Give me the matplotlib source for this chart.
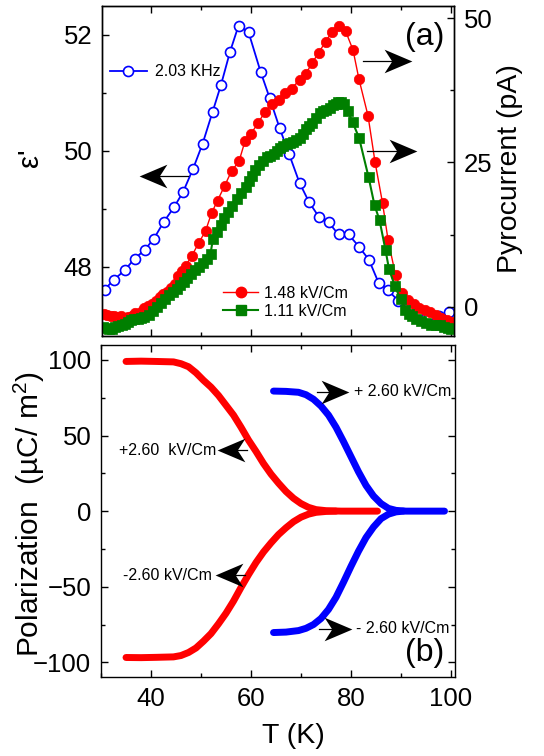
import matplotlib
matplotlib.use("Agg")
import matplotlib.pyplot as plt
from matplotlib.path import Path
from matplotlib.lines import Line2D
from matplotlib.ticker import MultipleLocator

plt.rcParams['font.family'] = ['Liberation Sans', 'DejaVu Sans']
plt.rcParams['mathtext.fontset'] = 'custom'
plt.rcParams['mathtext.rm'] = 'Liberation Sans'
plt.rcParams['mathtext.it'] = 'Liberation Sans:italic'
plt.rcParams['axes.linewidth'] = 1.0

# ---------------- (a) dielectric constant, 2.03 kHz (left axis) ----------------
T_eps = [30.7, 32.6, 34.7, 36.7, 38.7, 40.6, 42.5, 44.6, 46.4, 48.4, 50.3, 52.3,
         54.0, 55.8, 57.5, 59.5, 61.9, 63.7, 65.7, 67.6, 69.7, 71.6, 73.6, 75.5,
         77.5, 79.5, 81.6, 83.6, 85.5, 87.4, 89.4, 91.4, 93.4, 95.5, 97.6, 99.6]
eps = [47.61, 47.78, 47.94, 48.14, 48.29, 48.49, 48.77, 49.03, 49.29, 49.69, 50.12, 50.67,
       51.14, 51.71, 52.16, 52.05, 51.37, 50.92, 50.40, 49.95, 49.45, 49.12, 48.86, 48.77,
       48.56, 48.56, 48.35, 48.12, 47.73, 47.60, 47.42, 47.30, 47.22, 47.17, 47.15, 47.22]

# ---------------- (a) pyrocurrent (right axis) ----------------
T_pyro_148 = [30.5, 31.2, 31.9, 32.6, 33.3, 34.0, 34.7, 35.4, 36.1, 36.8, 37.3, 38.0,
              38.6, 39.4, 40.2, 41.0, 41.7, 42.4, 43.2, 44.0, 44.7, 45.4, 46.2, 46.9,
              48.1, 49.5, 50.9, 52.1, 53.3, 54.7, 56.1, 57.6, 58.8, 60.0, 61.4, 62.8,
              64.1, 65.5, 66.8, 68.1, 69.7, 70.9, 72.2, 73.5, 74.9, 76.2, 77.6, 78.9,
              80.4, 81.6, 83.4, 84.8, 86.3, 87.4, 88.9, 90.2, 91.4, 92.5, 93.6, 94.7,
              95.8, 96.9, 98.0, 99.1, 100.2]
I_pyro_148 = [-1.2, -1.5, -1.6, -1.7, -1.8, -1.7, -1.9, -1.8, -1.6, -1.1, -1.6, -0.9,
              -0.3, 0.2, 0.5, 1.0, 1.6, 2.2, 2.6, 3.2, 4.0, 5.4, 6.2, 7.1,
              8.7, 11.0, 13.1, 16.2, 18.4, 20.9, 23.5, 25.2, 28.7, 30.0, 31.8, 33.8,
              35.1, 35.9, 37.1, 37.8, 39.3, 40.3, 42.2, 44.0, 45.9, 47.7, 48.6, 47.8,
              44.5, 39.4, 33.1, 25.1, 18.0, 11.6, 5.5, 2.4, 1.2, 0.5, -0.2, -0.6,
              -1.0, -1.4, -1.9, -2.3, -2.6]

T_pyro_111 = [30.3, 30.9, 31.5, 32.2, 32.8, 33.4, 34.1, 34.7, 35.4, 36.0, 36.6, 37.3,
              37.9, 38.6, 39.6, 40.4, 41.2, 42.0, 42.8, 43.6, 44.4, 45.1, 45.8, 46.5,
              47.2, 48.0, 48.8, 49.6, 50.4, 51.2, 51.9, 52.4, 53.2, 54.0, 54.6, 55.3,
              56.2, 57.2, 58.0, 58.9, 59.5, 60.1, 60.8, 61.6, 62.3, 63.1, 63.8, 64.5,
              65.1, 65.7, 66.4, 67.1, 67.8, 68.4, 69.0, 69.7, 70.3, 70.9, 71.5, 72.2,
              73.0, 73.8, 74.4, 75.0, 75.7, 76.3, 76.9, 77.4, 78.0, 78.5, 79.3, 80.3,
              81.6, 83.5, 84.7, 85.7, 86.9, 87.6, 88.8, 89.9, 90.8, 91.5, 92.1, 93.0,
              94.0, 95.0, 96.0, 97.0, 97.7, 98.5, 99.3, 100.0]
I_pyro_111 = [-3.5, -3.7, -3.8, -3.8, -3.6, -3.4, -3.2, -3.0, -2.6, -2.3, -2.2, -2.1,
              -2.0, -1.8, -1.4, -0.7, 0.0, 0.7, 1.4, 2.0, 2.6, 3.1, 3.7, 4.3,
              4.9, 5.6, 6.3, 6.9, 7.5, 8.3, 9.2, 11.8, 13.0, 14.1, 15.3, 16.4,
              17.5, 18.7, 19.7, 20.8, 21.8, 22.7, 23.7, 24.6, 25.3, 25.9, 26.2, 26.4,
              27.0, 27.5, 27.9, 28.2, 28.4, 28.6, 28.9, 29.3, 30.0, 30.8, 31.3, 31.9,
              32.7, 33.6, 33.9, 34.1, 34.5, 34.9, 35.2, 35.5, 35.4, 35.2, 34.0, 32.0,
              29.3, 22.5, 17.6, 15.0, 9.8, 6.5, 3.5, 1.3, -0.5, -1.2, -1.6, -2.1,
              -2.5, -2.8, -3.1, -3.2, -3.2, -3.5, -3.7, -3.9]

# ---------------- (b) polarization ----------------
T_pol_red_pos = [35.0, 38.0, 41.0, 44.5, 46.0, 47.5, 49.0, 50.5, 52.0, 53.5, 55.0, 56.5,
                 58.0, 59.5, 61.0, 62.5, 64.0, 65.5, 67.0, 68.5, 70.0, 71.5, 73.0, 75.0,
                 78.0, 82.0, 85.3]
P_pol_red_pos = [99.0, 99.2, 99.0, 98.7, 97.5, 95.5, 91.5, 86.5, 82.0, 76.5, 70.0, 63.5,
                 55.5, 47.0, 39.5, 31.5, 24.5, 18.5, 13.0, 8.5, 5.0, 2.5, 1.0, 0.3,
                 0.0, 0.0, 0.0]

T_pol_red_neg = [35.0, 38.0, 41.0, 44.5, 46.0, 47.5, 49.0, 50.5, 52.0, 53.5, 55.0, 56.5,
                 58.0, 59.5, 61.0, 62.5, 64.0, 65.5, 67.0, 68.5, 70.0, 71.5, 73.0, 75.0,
                 77.0]
P_pol_red_neg = [-96.8, -96.9, -96.7, -96.4, -95.5, -93.5, -90.5, -86.0, -81.0, -74.5, -67.5, -59.5,
                 -50.5, -42.0, -34.0, -27.0, -21.0, -15.5, -11.0, -7.0, -4.0, -2.0, -0.8, -0.2,
                 0.0]

T_pol_blue_pos = [64.5, 67.0, 69.5, 71.0, 72.5, 74.0, 75.5, 77.0, 78.5, 80.0, 81.5, 83.0,
                  84.5, 86.0, 87.5, 89.0, 91.0, 95.0, 98.7]
P_pol_blue_pos = [79.4, 79.2, 78.6, 77.0, 74.0, 69.5, 63.5, 55.5, 46.0, 36.0, 26.0, 17.0,
                  10.0, 5.0, 1.8, 0.5, 0.0, 0.0, 0.0]

T_pol_blue_neg = [64.5, 67.0, 69.5, 71.0, 72.5, 74.0, 75.5, 77.0, 78.5, 80.0, 81.5, 83.0,
                  84.5, 86.0, 87.5, 89.0, 90.5]
P_pol_blue_neg = [-80.3, -80.0, -79.0, -77.5, -75.0, -71.0, -65.0, -57.0, -47.0, -36.5, -26.5, -17.5,
                  -10.5, -5.0, -2.0, -0.5, 0.0]

BLUE = '#0000ff'
RED = '#ff0000'
GREEN = '#007f00'
TICK_FS = 18.5
LABEL_FS = 20.5
NOTE_FS = 11.5


def stealth(direction):
    s = 1 if direction == 'right' else -1
    verts = [(s * 1.0, 0.0), (-s * 1.0, 0.85), (-s * 0.45, 0.0), (-s * 1.0, -0.85), (s * 1.0, 0.0)]
    codes = [Path.MOVETO, Path.LINETO, Path.LINETO, Path.LINETO, Path.CLOSEPOLY]
    return Path(verts, codes)


def pointer(axis, x_tip, x_tail, y, head=2.1, ms=20):
    direction = 'right' if x_tip > x_tail else 'left'
    s = 1 if direction == 'right' else -1
    x_mid = x_tip - s * head
    axis.plot([x_tail, x_mid], [y, y], color='black', lw=0.9, zorder=6)
    axis.plot([x_mid], [y], linestyle='none', marker=stealth(direction), ms=ms,
              color='black', mec='black', mew=0, zorder=6)


def style_ticks(a, **kw):
    a.tick_params(which='both', direction='in', labelsize=TICK_FS, width=1.0, **kw)
    a.tick_params(which='major', length=5)
    a.tick_params(which='minor', length=3)


fig = plt.figure(figsize=(5.44, 7.56), dpi=100)

# ---------------- panel (a) ----------------
ax = fig.add_axes([0.1875, 0.5556, 0.6471, 0.4365])
ax2 = ax.twinx()

ax.plot(T_eps, eps, color=BLUE, lw=1.3, marker='o', ms=7.2, mfc='white',
        mec=BLUE, mew=1.2)
ax2.plot(T_pyro_148, I_pyro_148, color=RED, lw=1.0, marker='o', ms=7.5,
         mfc=RED, mec=RED, mew=0.5)
ax2.plot(T_pyro_111, I_pyro_111, color=GREEN, lw=1.5, marker='s', ms=6.6,
         mfc=GREEN, mec=GREEN, mew=0.5)

ax.set_xlim(30.2, 100.6)
ax.set_ylim(46.81, 52.5)
ax2.set_ylim(-5.08, 52.13)

ax.xaxis.set_major_locator(MultipleLocator(20))
ax.xaxis.set_minor_locator(MultipleLocator(10))
ax.yaxis.set_major_locator(MultipleLocator(2))
ax.yaxis.set_minor_locator(MultipleLocator(1))
ax2.yaxis.set_major_locator(MultipleLocator(25))
ax2.yaxis.set_minor_locator(MultipleLocator(12.5))

style_ticks(ax, top=True, bottom=True, left=True, right=False,
            labelbottom=False, pad=7)
style_ticks(ax2, right=True, left=False, pad=7)

ax.set_ylabel("ε'", fontsize=21)
ax.yaxis.set_label_coords(-0.165, 0.54)
ax2.set_ylabel("Pyrocurrent (pA)", fontsize=LABEL_FS)
ax2.yaxis.set_label_coords(1.122, 0.506)

h_blue = Line2D([], [], color=BLUE, lw=1.3, marker='o', ms=7.2, mfc='white', mec=BLUE, mew=1.2)
ax.legend([h_blue], ['2.03 KHz'], loc='center left', bbox_to_anchor=(0.023, 0.801),
          frameon=False, fontsize=NOTE_FS, handlelength=2.3, handletextpad=0.5,
          borderpad=0, borderaxespad=0)

h_red = Line2D([], [], color=RED, lw=1.0, marker='o', ms=7.5, mfc=RED, mec=RED)
h_green = Line2D([], [], color=GREEN, lw=1.5, marker='s', ms=6.6, mfc=GREEN, mec=GREEN)
ax2.legend([h_red, h_green], ['1.48 kV/Cm', '1.11 kV/Cm'], loc='center left',
           bbox_to_anchor=(0.344, 0.102), frameon=False, fontsize=NOTE_FS,
           handlelength=2.2, handletextpad=0.35, labelspacing=0.2,
           borderpad=0, borderaxespad=0)

ax.text(0.86, 0.907, '(a)', transform=ax.transAxes, fontsize=23, ha='left', va='center')

pointer(ax, 38.2, 47.3, 49.56)
pointer(ax2, 91.5, 82.3, 42.6)
pointer(ax2, 92.5, 83.1, 27.0)

# ---------------- panel (b) ----------------
axb = fig.add_axes([0.1857, 0.1045, 0.6507, 0.4392])

line_kw = dict(lw=5.0, solid_capstyle='round', solid_joinstyle='round')
axb.plot(T_pol_red_pos, P_pol_red_pos, color=RED, **line_kw)
axb.plot(T_pol_red_neg, P_pol_red_neg, color=RED, **line_kw)
axb.plot(T_pol_blue_pos, P_pol_blue_pos, color=BLUE, **line_kw)
axb.plot(T_pol_blue_neg, P_pol_blue_neg, color=BLUE, **line_kw)

axb.set_xlim(30.0, 100.8)
axb.set_ylim(-109.7, 109.9)
axb.xaxis.set_major_locator(MultipleLocator(20))
axb.xaxis.set_minor_locator(MultipleLocator(10))
axb.yaxis.set_major_locator(MultipleLocator(50))
axb.yaxis.set_minor_locator(MultipleLocator(25))
style_ticks(axb, top=True, bottom=True, left=True, right=True, pad=7)

axb.set_xlabel('T (K)', fontsize=LABEL_FS)
axb.xaxis.set_label_coords(0.542, -0.14)
axb.set_ylabel('Polarization  (µC/ m$^{2}$)', fontsize=21.5)
axb.yaxis.set_label_coords(-0.152, 0.49)

axb.text(80.6, 79.0, '+ 2.60 kV/Cm', fontsize=NOTE_FS, ha='left', va='center')
axb.text(81.0, -77.3, '- 2.60 kV/Cm', fontsize=NOTE_FS, ha='left', va='center')
axb.text(53.0, 40.4, '+2.60  kV/Cm', fontsize=NOTE_FS, ha='right', va='center')
axb.text(52.1, -42.4, '-2.60 kV/Cm', fontsize=NOTE_FS, ha='right', va='center')
axb.text(0.859, 0.072, '(b)', transform=axb.transAxes, fontsize=23, ha='left', va='center')

pointer(axb, 78.9, 73.1, 79.0)
pointer(axb, 79.5, 73.5, -78.0)
pointer(axb, 53.9, 59.1, 40.4)
pointer(axb, 53.5, 58.8, -42.4)

fig.savefig('out.png', dpi=100)
